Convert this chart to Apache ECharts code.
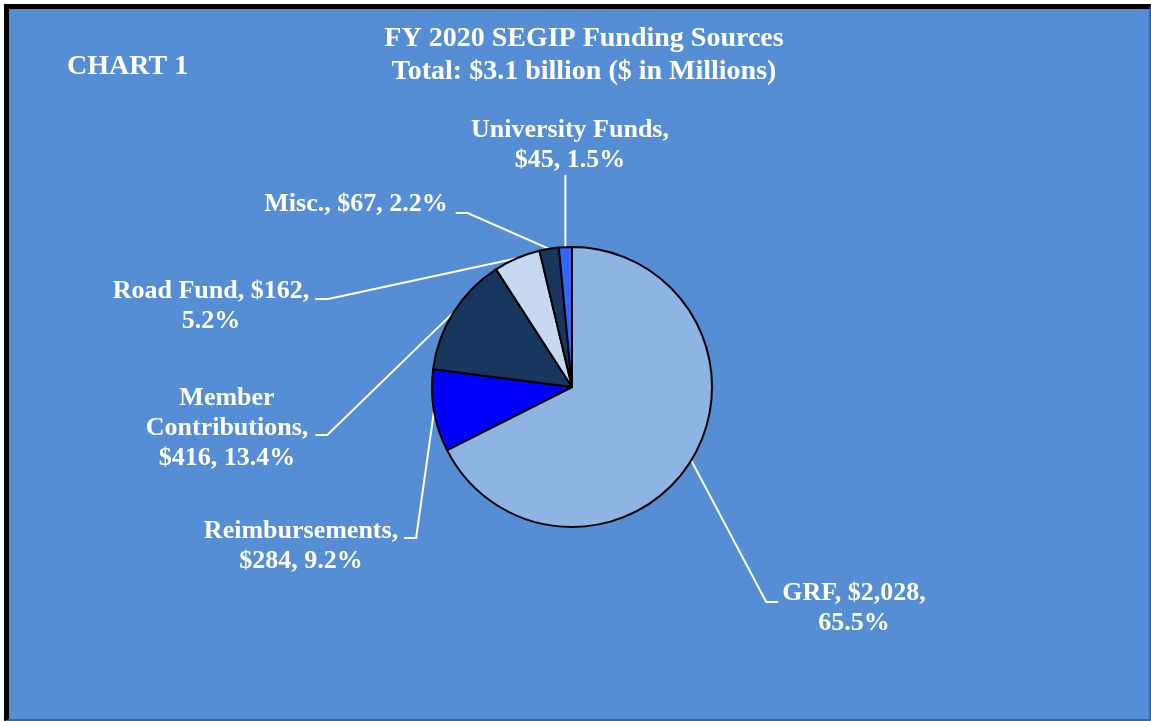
<!DOCTYPE html>
<html>
<head>
<meta charset="utf-8">
<script src="https://cdn.jsdelivr.net/npm/echarts@6/dist/echarts.min.js"></script>
<style>
  html, body { margin: 0; padding: 0; background: #ffffff; width: 1151px; height: 721px; overflow: hidden; }
  #frame { position: absolute; left: 4px; top: 4px; width: 1147px; height: 717px; box-sizing: border-box;
           background: #558ED5; border-left: 5px solid #000; border-top: 5px solid #000;
           border-right: 2px solid #3A6596; border-bottom: 2px solid #3A6596; }
  #chart { position: absolute; left: 0; top: 0; width: 1151px; height: 721px; }
</style>
</head>
<body>
<div id="frame"></div>
<div id="chart"></div>
<script>
// ---- data ----
const categories = ['GRF', 'Reimbursements', 'Member Contributions', 'Road Fund', 'Misc.', 'University Funds'];
const values = [2028, 284, 416, 162, 67, 45];
const percentLabels = ['65.5%', '9.2%', '13.4%', '5.2%', '2.2%', '1.5%'];
const titleLines = ['FY 2020 SEGIP Funding Sources', 'Total: $3.1 billion ($ in Millions)'];
const chartTag = 'CHART 1';

// ---- styles / layout ----
const colors = ['#8EB4E3', '#0000FF', '#17375E', '#C6D9F1', '#17375E', '#3366FF'];
const labelTemplates = [
  '{n}, {v},\n{p}',
  '{n},\n{v}, {p}',
  '{n},\n{v}, {p}',
  '{n}, {v},\n{p}',
  '{n}, {v}, {p}',
  '{n},\n{v}, {p}'
];
const wrapName = [false, false, true, false, false, false];
// label block centre, side the leader leaves from, vertical offset of the leader end, gap, horizontal segment
const labelPlace = [
  { x: 854, y: 608, side: 'left',   dy: -6,  gap: 4, seg: 12 },
  { x: 301, y: 546, side: 'right',  dy: -8,  gap: 6, seg: 12 },
  { x: 227, y: 428, side: 'right',  dy: 7,   gap: 7, seg: 12 },
  { x: 211, y: 306, side: 'right',  dy: -7,  gap: 6, seg: 13 },
  { x: 356, y: 204, side: 'right',  dy: 9,   gap: 8, seg: 12 },
  { x: 570, y: 145, side: 'bottom', dy: 30,  gap: 0, seg: 0 }
];
const FONT = "'Liberation Serif', 'Times New Roman', serif";

function fmtMoney(v) { return '$' + v.toLocaleString('en-US'); }

const chart = echarts.init(document.getElementById('chart'), null, { renderer: 'canvas' });

const option = {
  backgroundColor: 'transparent',
  animation: false,
  graphic: [
    {
      type: 'text',
      style: {
        text: titleLines.join('\n'),
        x: 584, y: 55,
        align: 'center', verticalAlign: 'middle',
        fill: '#ffffff',
        font: 'bold 28px ' + FONT,
        lineHeight: 33
      }
    },
    {
      type: 'text',
      style: {
        text: chartTag,
        x: 67, y: 67,
        align: 'left', verticalAlign: 'middle',
        fill: '#ffffff',
        font: 'bold 28px ' + FONT
      }
    }
  ],
  series: [{
    type: 'pie',
    center: [572, 387],
    radius: 140,
    startAngle: 90,
    clockwise: true,
    avoidLabelOverlap: false,
    data: categories.map((c, i) => ({ name: c, value: values[i], itemStyle: { color: colors[i] } })),
    itemStyle: { borderColor: '#000000', borderWidth: 2 },
    emphasis: { disabled: true },
    label: {
      show: true,
      position: 'outside',
      color: '#ffffff',
      fontFamily: FONT,
      fontWeight: 'bold',
      fontSize: 26,
      lineHeight: 30,
      align: 'center',
      formatter: function (p) {
        const i = p.dataIndex;
        const n = wrapName[i] ? p.name.replace(' ', '\n') : p.name;
        return labelTemplates[i]
          .replace('{n}', n)
          .replace('{v}', fmtMoney(p.value))
          .replace('{p}', percentLabels[i]);
      }
    },
    labelLine: {
      show: true,
      length: 10,
      length2: 10,
      lineStyle: { color: '#ffffff', width: 2 }
    },
    labelLayout: function (params) {
      const L = labelPlace[params.dataIndex];
      const r = params.labelRect || params.rect;
      const w = r.width;
      const pts = params.labelLinePoints;
      const anchor = pts && pts[0] ? pts[0] : null;
      const out = { x: L.x, y: L.y, align: 'center', verticalAlign: 'middle' };
      if (anchor) {
        let line;
        if (L.side === 'right') {
          const ex = L.x + w / 2 + L.gap, ey = L.y + L.dy;
          line = [[anchor[0], anchor[1]], [ex + L.seg, ey], [ex, ey]];
        } else if (L.side === 'left') {
          const ex = L.x - w / 2 - L.gap, ey = L.y + L.dy;
          line = [[anchor[0], anchor[1]], [ex - L.seg, ey], [ex, ey]];
        } else {
          const ey = L.y + L.dy;
          line = [[anchor[0], anchor[1]], [anchor[0], ey]];
        }
        out.labelLinePoints = line;
      }
      return out;
    }
  }]
};
chart.setOption(option);
</script>
</body>
</html>
